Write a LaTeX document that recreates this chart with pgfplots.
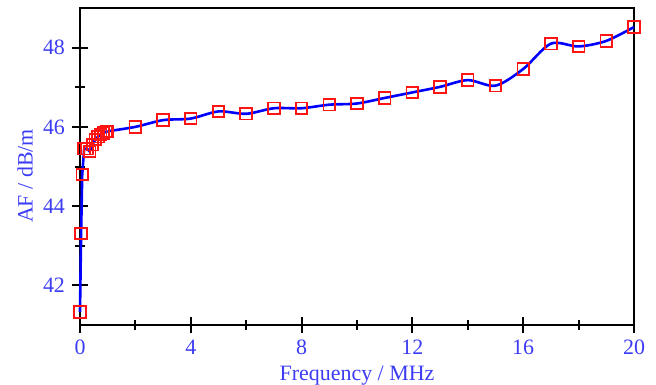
\documentclass[border=0pt]{standalone}
\usepackage{fontspec}
\setmainfont{Liberation Serif}
\usepackage{pgfplots}
\pgfplotsset{compat=1.18}
\definecolor{lblue}{RGB}{60,60,245}
\definecolor{mred}{RGB}{255,20,20}
\pgfplotstableread{
f v
0 41.33
0.04 43.31
0.08 44.80
0.15 45.45
0.25 45.45
0.35 45.38
0.45 45.55
0.55 45.68
0.65 45.75
0.75 45.80
0.85 45.85
0.95 45.88
1 45.89
}\lowdata
\pgfplotstableread{
f v
1 45.89
2 46.00
3 46.17
4 46.21
5 46.39
6 46.33
7 46.47
8 46.47
9 46.56
10 46.59
11 46.73
12 46.87
13 47.01
14 47.18
15 47.04
16 47.46
17 48.10
18 48.03
19 48.17
20 48.52
}\highdata
\begin{document}
\begin{tikzpicture}
\begin{axis}[
  scale only axis,
  width=277bp, height=158.5bp,
  xmin=0, xmax=20, ymin=41, ymax=49,
  xtick={0,4,...,20}, ytick={42,44,46,48},
  minor x tick num=1, minor y tick num=1,
  axis line style={black, line width=1bp},
  tick align=center,
  major tick length=8bp, minor tick length=5bp,
  every tick/.style={black, line width=1bp},
  xtick pos=bottom, ytick pos=left,
  /pgf/number format/assume math mode=true,
  ticklabel style={font=\fontsize{11}{12}\selectfont, text=lblue},
  xlabel={Frequency / MHz}, ylabel={AF / dB/m},
  label style={font=\fontsize{11}{12}\selectfont, text=lblue},
  xlabel style={at={(axis description cs:0.5,0)}, anchor=north, yshift=-17bp},
  ylabel style={at={(axis description cs:0,0.47)}, anchor=south, yshift=20bp},
  clip=false,
]
\addplot[color=blue, line width=1.3bp, no marks] table[x=f,y=v] {\lowdata};
\addplot[color=blue, line width=1.3bp, smooth, no marks] table[x=f,y=v] {\highdata};
\addplot[only marks, color=mred, mark=square, mark size=2.9bp,
  mark options={solid, line width=0.9bp, draw=mred, fill=none}] table[x=f,y=v] {\lowdata};
\addplot[only marks, color=mred, mark=square, mark size=2.9bp,
  mark options={solid, line width=0.9bp, draw=mred, fill=none}] table[x=f,y=v] {\highdata};
\end{axis}
\pgfresetboundingbox
\path[use as bounding box] ([shift={(-40bp,-30bp)}]current axis.south west) rectangle ([shift={(11bp,4bp)}]current axis.north east);
\end{tikzpicture}
\end{document}
